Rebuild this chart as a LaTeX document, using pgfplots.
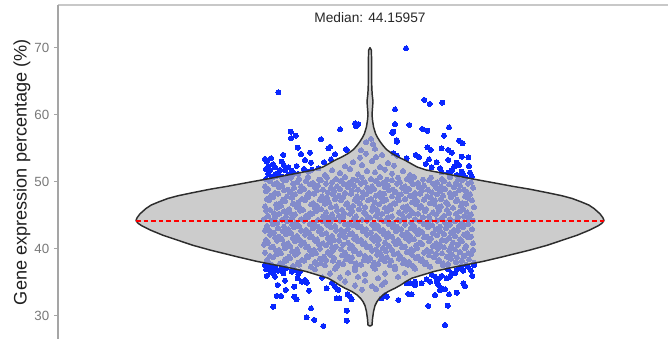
\documentclass[border=0pt]{standalone}
\usepackage{pgfplots}
\pgfplotsset{compat=1.18}
\usepackage{fontspec}
\setmainfont{Liberation Sans}
\definecolor{ptblue}{RGB}{10,40,255}
\definecolor{vfill}{RGB}{182,182,182}
\definecolor{vline}{RGB}{45,45,45}
\definecolor{axgray}{RGB}{165,165,165}
\definecolor{topgray}{RGB}{200,200,200}
\definecolor{tickgray}{RGB}{120,120,120}
\begin{document}
\begin{tikzpicture}
\path[use as bounding box] (-43.5pt,0pt) rectangle (457.5pt,254.25pt);
\begin{axis}[
  at={(0pt,0pt)}, anchor=south west, scale only axis,
  width=457.5pt, height=250.5pt,
  xmin=-312, xmax=298, ymin=26.52, ymax=76.37,
  clip marker paths=true,
  axis x line*=top, axis y line*=left,
  xtick=\empty,
  ytick={30,40,50,60,70},
  tick align=outside,
  major tick length=3pt,
  every tick/.style={axgray, line width=0.8pt},
  y axis line style={axgray, line width=0.9pt},
  x axis line style={topgray, line width=0.9pt},
  yticklabel style={font=\fontsize{10}{12}\selectfont, text=tickgray},
  /pgf/number format/assume math mode=true,
  ylabel={Gene expression percentage (\%)},
  ylabel style={at={(axis description cs:-0.059,0.5)}, anchor=center, font=\fontsize{13.6}{15}\selectfont, text=black!88},
  ptmarks/.style={only marks, color=ptblue, mark=*, mark size=1.9pt, mark options={draw=ptblue, fill=ptblue, line width=0pt}},
]
% interior jittered points (appear lavender under the violin)
\addplot[ptmarks] coordinates {
(-104,37.6) (-95,37.3) (-88,37.7) (-77,37.4) (-71,37.6) (-59,37.3) (-53,37.7) (-45,37.5) (-33,37.4) (-27,37.7) (-15,37.3) (-9,37.6) (3,37.4) (8,37.7) (20,37.5) (25,37.3) (38,37.6) (43,37.4) (55,37.7) (60,37.3) (73,37.5) (78,37.7) (91,37.4) (96,37.6)
(-102,38.1) (-90,37.8) (-84,38.2) (-72,37.9) (-66,38.2) (-55,38.0) (-49,37.8) (-37,38.2) (-31,37.9) (-19,38.1) (-14,37.8) (-2,38.2) (4,37.9) (15,38.1) (21,38.2) (33,37.8) (39,38.0) (51,38.2) (56,37.9) (68,38.1) (73,37.8) (86,38.0) (92,38.2) (104,37.9)
(-103,38.3) (-97,38.7) (-85,38.4) (-80,38.6) (-68,38.3) (-62,38.7) (-50,38.5) (-44,38.3) (-36,38.6) (-24,38.4) (-18,38.7) (-6,38.3) (0,38.6) (11,38.4) (17,38.7) (29,38.5) (34,38.3) (46,38.6) (52,38.4) (64,38.7) (69,38.3) (81,38.5) (87,38.7) (99,38.4)
(-100,38.9) (-93,39.2) (-81,38.8) (-75,39.1) (-63,38.9) (-58,39.2) (-46,38.8) (-40,39.1) (-28,39.0) (-22,38.8) (-11,39.2) (-5,38.9) (7,39.1) (12,38.8) (24,39.2) (30,38.9) (42,39.1) (48,38.8) (59,39.0) (66,39.2) (77,38.8) (82,39.1) (94,38.9) (101,39.2)
(-105,39.4) (-94,39.7) (-89,39.3) (-78,39.6) (-72,39.4) (-60,39.7) (-54,39.3) (-42,39.5) (-37,39.7) (-25,39.4) (-16,39.6) (-10,39.3) (2,39.7) (10,39.4) (16,39.6) (28,39.3) (37,39.5) (43,39.7) (54,39.4) (61,39.6) (72,39.3) (79,39.7) (90,39.5) (98,39.3)
(-99,40.2) (-91,39.8) (-85,40.1) (-73,39.9) (-64,40.2) (-56,39.8) (-50,40.0) (-38,40.2) (-29,39.9) (-20,40.1) (-15,39.8) (-3,40.2) (6,39.9) (13,40.1) (22,39.8) (32,40.2) (41,39.9) (47,40.1) (57,39.8) (68,40.0) (74,40.2) (85,39.9) (95,40.1) (103,39.8)
(-106,40.6) (-97,40.3) (-86,40.7) (-80,40.4) (-69,40.6) (-62,40.3) (-51,40.7) (-44,40.5) (-34,40.3) (-27,40.6) (-18,40.4) (-7,40.7) (0,40.3) (8,40.6) (19,40.4) (26,40.7) (35,40.3) (46,40.5) (52,40.7) (63,40.4) (70,40.6) (81,40.3) (88,40.6) (96,40.4)
(-102,40.9) (-93,41.2) (-82,40.8) (-75,41.1) (-66,40.9) (-55,41.2) (-47,40.8) (-40,41.0) (-31,41.2) (-22,40.9) (-12,41.1) (-5,40.8) (4,41.2) (15,40.9) (24,41.1) (30,40.8) (39,41.2) (50,40.9) (59,41.1) (66,40.8) (76,41.2) (83,40.9) (92,41.1) (103,40.8)
(-104,41.3) (-95,41.7) (-88,41.4) (-77,41.6) (-70,41.3) (-60,41.7) (-53,41.4) (-42,41.6) (-36,41.3) (-25,41.7) (-16,41.5) (-9,41.3) (2,41.6) (9,41.4) (17,41.7) (28,41.3) (36,41.6) (44,41.4) (54,41.7) (61,41.5) (72,41.3) (79,41.6) (90,41.4) (98,41.7)
(-100,42.1) (-91,41.8) (-84,42.2) (-73,41.9) (-65,42.1) (-58,41.8) (-48,42.2) (-38,41.9) (-30,42.0) (-20,42.2) (-14,41.8) (-3,42.1) (6,41.9) (14,42.2) (22,41.8) (32,42.1) (40,41.9) (48,42.2) (57,41.8) (67,42.0) (74,42.2) (85,41.9) (94,42.1) (101,41.8)
(-105,42.7) (-96,42.4) (-87,42.6) (-79,42.3) (-69,42.7) (-61,42.4) (-51,42.6) (-44,42.3) (-34,42.7) (-26,42.5) (-18,42.3) (-7,42.6) (1,42.4) (10,42.7) (18,42.3) (26,42.6) (37,42.4) (45,42.7) (52,42.5) (63,42.3) (70,42.6) (81,42.4) (88,42.7) (97,42.3)
(-101,42.8) (-92,43.1) (-82,42.9) (-76,43.2) (-64,42.8) (-57,43.1) (-49,42.9) (-39,43.2) (-29,42.8) (-22,43.0) (-12,43.2) (-4,42.9) (5,43.1) (13,42.8) (23,43.2) (31,42.9) (41,43.1) (49,42.8) (58,43.2) (66,42.9) (76,43.1) (84,42.8) (93,43.2) (102,42.9)
(-103,43.4) (-97,43.7) (-86,43.3) (-78,43.6) (-71,43.4) (-60,43.7) (-52,43.3) (-43,43.6) (-35,43.4) (-25,43.7) (-17,43.5) (-9,43.3) (2,43.6) (8,43.4) (19,43.7) (27,43.3) (35,43.6) (44,43.4) (54,43.7) (62,43.5) (70,43.3) (80,43.6) (89,43.4) (98,43.7)
(-99,44.2) (-93,43.8) (-83,44.1) (-74,43.9) (-66,44.2) (-56,43.8) (-47,44.1) (-40,43.9) (-30,44.2) (-21,43.8) (-13,44.0) (-3,44.2) (4,43.9) (14,44.1) (23,43.8) (30,44.2) (41,43.9) (50,44.1) (57,43.8) (67,44.2) (75,43.9) (85,44.1) (92,43.8) (103,44.2)
(-106,44.4) (-95,44.7) (-88,44.3) (-78,44.6) (-69,44.4) (-62,44.7) (-52,44.3) (-42,44.6) (-36,44.4) (-27,44.7) (-16,44.5) (-8,44.3) (0,44.6) (10,44.4) (18,44.7) (28,44.3) (34,44.6) (45,44.4) (53,44.7) (60,44.3) (72,44.6) (80,44.4) (88,44.7) (99,44.5)
(-102,44.9) (-91,45.2) (-84,44.8) (-75,45.1) (-64,44.9) (-58,45.2) (-47,44.8) (-38,45.1) (-31,44.9) (-20,45.2) (-14,44.8) (-4,45.1) (6,44.9) (12,45.2) (22,44.8) (32,45.1) (39,44.9) (48,45.2) (59,44.8) (66,45.1) (74,44.9) (86,45.2) (94,44.8) (101,45.1)
(-104,45.7) (-96,45.3) (-86,45.6) (-80,45.4) (-70,45.7) (-60,45.3) (-54,45.6) (-44,45.4) (-33,45.7) (-26,45.3) (-18,45.6) (-6,45.4) (2,45.7) (8,45.3) (17,45.6) (29,45.4) (36,45.7) (43,45.3) (55,45.6) (63,45.4) (69,45.7) (79,45.3) (90,45.6) (97,45.4)
(-100,45.8) (-93,46.1) (-81,45.9) (-73,46.2) (-67,45.8) (-55,46.1) (-49,45.9) (-39,46.2) (-28,45.8) (-21,46.1) (-11,45.9) (-5,46.2) (7,45.8) (15,46.1) (21,45.9) (33,46.2) (40,45.8) (50,46.1) (56,45.9) (68,46.2) (77,45.8) (83,46.1) (93,45.9) (104,46.2)
(-105,46.3) (-94,46.6) (-89,46.4) (-77,46.7) (-71,46.3) (-59,46.6) (-53,46.4) (-45,46.7) (-34,46.3) (-24,46.6) (-17,46.4) (-10,46.7) (3,46.3) (9,46.6) (20,46.4) (25,46.7) (37,46.3) (46,46.6) (51,46.4) (64,46.7) (71,46.3) (78,46.6) (91,46.4) (96,46.7)
(-101,47.2) (-90,46.8) (-85,47.1) (-72,46.9) (-65,47.2) (-57,46.8) (-46,47.1) (-41,46.9) (-29,47.2) (-23,46.8) (-12,47.0) (-2,47.2) (5,46.9) (13,47.1) (24,46.8) (29,47.2) (42,46.9) (47,47.1) (60,46.8) (65,47.2) (76,46.9) (86,47.1) (92,46.8) (102,47.2)
(-103,47.4) (-97,47.7) (-87,47.3) (-78,47.6) (-68,47.4) (-62,47.7) (-50,47.3) (-43,47.6) (-35,47.4) (-27,47.7) (-15,47.3) (-8,47.6) (1,47.4) (11,47.7) (16,47.3) (28,47.6) (35,47.4) (44,47.7) (54,47.3) (61,47.6) (71,47.4) (81,47.7) (87,47.3) (98,47.6)
(-99,47.9) (-92,48.2) (-83,47.8) (-75,48.1) (-63,47.9) (-56,48.2) (-48,47.8) (-37,48.1) (-31,47.9) (-19,48.2) (-13,47.8) (-4,48.1) (6,47.9) (14,48.2) (22,47.8) (31,48.1) (40,47.9) (50,48.2) (57,47.8) (67,48.1) (73,47.9) (85,48.2) (95,47.8) (100,48.1)
(-104,48.6) (-95,48.3) (-86,48.7) (-79,48.4) (-70,48.6) (-61,48.3) (-53,48.7) (-42,48.4) (-36,48.6) (-25,48.3) (-18,48.7) (-7,48.4) (0,48.6) (10,48.3) (19,48.7) (26,48.4) (36,48.6) (45,48.3) (52,48.7) (62,48.4) (70,48.6) (80,48.3) (89,48.7) (97,48.4)
(-102,48.9) (-91,49.2) (-82,48.8) (-76,49.1) (-66,48.9) (-55,49.2) (-47,48.8) (-39,49.1) (-30,48.9) (-22,49.2) (-12,48.8) (-3,49.1) (4,48.9) (15,49.2) (23,48.8) (32,49.1) (39,48.9) (49,49.2) (58,48.8) (66,49.1) (75,48.9) (84,49.2) (94,48.8) (103,49.1)
(-105,49.3) (-96,49.6) (-88,49.4) (-77,49.7) (-69,49.3) (-60,49.6) (-52,49.4) (-44,49.7) (-33,49.3) (-26,49.6) (-16,49.4) (-9,49.7) (2,49.3) (9,49.6) (18,49.4) (27,49.7) (35,49.3) (43,49.6) (54,49.4) (63,49.7) (71,49.3) (79,49.6) (90,49.4) (98,49.7)
(-100,50.1) (-93,49.8) (-84,50.2) (-73,49.9) (-64,50.1) (-57,49.8) (-49,50.2) (-38,49.9) (-29,50.1) (-21,49.8) (-13,50.2) (-5,49.9) (6,50.1) (13,49.8) (22,50.2) (30,49.9) (41,50.1) (48,49.8) (59,50.2) (67,49.9) (74,50.1) (86,49.8) (92,50.2) (101,49.9)
(-104,50.4) (-97,50.7) (-87,50.3) (-79,50.6) (-71,50.4) (-62,50.7) (-51,50.3) (-43,50.6) (-34,50.4) (-25,50.7) (-17,50.3) (-8,50.6) (1,50.4) (10,50.7) (17,50.3) (28,50.6) (37,50.4) (44,50.7) (53,50.3) (61,50.6) (72,50.4) (80,50.7) (88,50.3) (96,50.6)
(-45,51.0) (-30,51.3) (-12,51.1) (5,51.4) (22,51.2) (40,51.0) (-38,51.7) (-20,51.9) (-3,51.6) (15,51.8) (33,51.6) (-25,52.3) (-8,52.5) (10,52.2) (24,52.4) (-17,52.9) (2,53.1) (18,52.8) (-10,53.6) (6,53.7) (-4,54.2) (12,54.0) (-9,54.7) (5,54.9) (3,55.6) (-4,55.9) (1,56.4)
(-55,36.9) (-35,37.0) (-15,36.8) (5,37.0) (25,36.9) (45,37.0) (-40,36.3) (-22,36.4) (-5,36.2) (15,36.3) (35,36.4) (-30,35.7) (-12,35.8) (8,35.6) (28,35.8) (-25,35.1) (-5,35.2) (15,35.0) (-15,34.5) (2,34.4) (12,34.6) (-8,33.9) (6,34.0)
};
% outlying points (blue, outside the violin)
\addplot[ptmarks] coordinates {
(-91.7,63.34) (-79.3,57.46) (-74.3,56.87) (-79,56.48) (-30,57.82) (-49,56.33) (-72.3,55.07) (-41.7,54.98) (-24,54.84) (-15,58.7) (-60,54.33) (-69,54.13) (-86.7,53.99) (-65,53.24) (-88.3,52.99) (-103.3,52.99) (-39,53.34) (-59,52.84) (-73.3,52.34) (-81.7,52.15) (-95,52.15) (-100,51.75) (-90,51.75) (-85,51.75) (-78.3,51.64) (-101.7,51.15) (-95,51.1) (-81.7,51.0) (-71.7,51.15) (-61.7,51.49) (-98.3,50.66) (-88.3,50.75) (-51.7,52.0) (-101.7,52.34) (-11.7,58.6) (-14,58.3) (-40,55.2) (-23.3,54.73)
(-104,51.9) (-97,52.6) (-92,51.3) (-86,52.4) (-76,51.2) (-66,51.9) (-104,50.4) (-93,50.9) (-84,50.4) (-58,51.8) (-46,52.9) (-35,54.1) (-105,53.4) (-99,53.5)
(36,69.9) (54.3,62.2) (59.7,61.6) (72.3,61.8) (25,60.8) (39.3,58.46) (25,58.6) (52.3,57.87) (57.3,57.6) (79,58.1) (74,56.87) (26.7,56.2) (89,56.12) (92.7,55.73) (57.3,55.13) (60.7,54.73) (71.7,54.98) (78.3,54.73) (81.7,54.33) (45.7,53.99) (49,53.64) (59,53.34) (78.3,53.24) (91.7,53.73) (98.3,53.64) (86.7,52.84) (66.7,52.9) (55.7,52.64) (84.3,52.24) (89,52.45) (99,52.34) (81.7,51.64) (91.7,51.49) (100,51.34) (70,52.0) (61.7,52.15) (78.3,51.35) (93.3,51.0) (101.7,50.75) (86.7,51.0) (71.7,51.4) (95,50.6)
(23.3,57.46) (26.7,55.97) (23.3,54.24) (36.7,53.5) (22.3,57.3) (27,53.9)
(-103.3,35.93) (-96.7,36.33) (-95,35.82) (-91.7,36.72) (-86.7,36.33) (-92.3,34.58) (-85,35.22) (-93.3,32.94) (-89,32.94) (-84.3,33.84) (-96.7,31.34) (-75.7,34.33) (-75.7,32.84) (-73.3,32.45) (-72.3,35.58) (-68.3,35.07) (-63.3,34.93) (-61,33.73) (-59,31.1) (-63.3,29.76) (-55.7,29.36) (-46.7,28.46) (-43.3,34.09) (-32.3,33.94) (-35,34.33) (-30.7,32.6) (-23.3,30.75) (-23.3,29.25) (-18.3,32.45) (-22.3,33.2) (-100,37.07) (-78.3,36.57) (-71.7,36.22) (-65,35.33) (-48,35.7) (-38,34.9) (-75,36.82) (-94,37.07) (-88.3,37.07) (-105,37.57) (-98.3,37.57) (-84,37.1) (-70,36.6) (-33.3,32.6) (-31.7,33.84) (-20,32.84) (-104,36.9) (-99,36.5)
(28.3,32.34) (38.3,33.24) (41.7,33.19) (58.3,31.45) (77.7,31.49) (75,28.61) (65,33.09) (79,33.19) (86.7,33.43) (70,33.84) (68.3,34.58) (71.7,34.09) (75,33.94) (66.7,35.07) (69,35.58) (60,35.07) (56.7,35.43) (51.7,34.84) (45,34.58) (40,34.84) (93.3,34.84) (95,34.43) (102.3,35.93) (101,36.72) (93.3,36.72) (85,36.33) (80,35.82) (81.7,36.33) (76.7,35.58) (65,35.82) (71.7,35.93) (86.7,36.82) (45,35.07) (36.7,34.84) (15,33.1) (11.7,32.6) (16.7,32.84) (104,37.5) (98,37.3) (90,37.2) (78,36.9) (62,36.1)
};
% violin
\addplot[fill=vfill, fill opacity=0.7, draw=vline, line width=1.1pt, line join=round] coordinates {
(0,28.45) (2,28.6) (2.5,29.5) (3.5,30.6) (5,31.5) (7,32.1) (9.5,32.6) (13,33.1) (18,33.6) (25,34.1) (31,34.6) (36,35.1) (42,35.6) (53,36.1) (64,36.6) (79,37.1) (96,37.6) (113,38.1) (133,38.8) (160,39.8) (177,40.5) (193,41.3) (207,42.0) (220,42.8) (228,43.4) (232,43.8) (234,44.2) (233,44.6) (230,45.2) (224,46.0) (219,46.5) (211,47.0) (202,47.5) (192,47.9) (176,48.4) (159,48.9) (143,49.3) (125,49.8) (103,50.4) (89,50.8) (75,51.2) (56,51.75) (47,52.2) (41,52.7) (35,53.2) (28,53.7) (22,54.2) (16.5,54.8) (13,55.4) (10,56.0) (7.5,56.6) (5.5,57.2) (3.5,58.2) (2.5,59.2) (2,60.0) (2.5,61.0) (3,62.0) (2.2,63.0) (1.8,64) (1.6,66) (1.6,68) (1.4,69.6) (0,70.0)
(-1.4,69.6) (-1.6,68) (-1.6,66) (-1.8,64) (-2.2,63.0) (-3,62.0) (-2.5,61.0) (-2,60.0) (-2.5,59.2) (-3.5,58.2) (-5.5,57.2) (-7.5,56.6) (-10,56.0) (-13,55.4) (-16.5,54.8) (-22,54.2) (-28,53.7) (-35,53.2) (-41,52.7) (-47,52.2) (-56,51.75) (-75,51.2) (-89,50.8) (-103,50.4) (-125,49.8) (-143,49.3) (-159,48.9) (-176,48.4) (-192,47.9) (-202,47.5) (-211,47.0) (-219,46.5) (-224,46.0) (-230,45.2) (-233,44.6) (-234,44.2) (-232,43.8) (-228,43.4) (-220,42.8) (-207,42.0) (-193,41.3) (-177,40.5) (-160,39.8) (-133,38.8) (-113,38.1) (-96,37.6) (-79,37.1) (-64,36.6) (-53,36.1) (-42,35.6) (-36,35.1) (-31,34.6) (-25,34.1) (-18,33.6) (-13,33.1) (-9.5,32.6) (-7,32.1) (-5,31.5) (-3.5,30.6) (-2.5,29.5) (-2,28.6)
} -- cycle;
% median line
\addplot[red, line width=1.3pt, dash pattern=on 3.5pt off 2.2pt] coordinates {(-234,44.16) (234,44.16)};
\node[font=\fontsize{10.3}{12}\selectfont, text=black!85] at (axis cs:0,74.43) {Median: 44.15957};
\end{axis}
\end{tikzpicture}
\end{document}
